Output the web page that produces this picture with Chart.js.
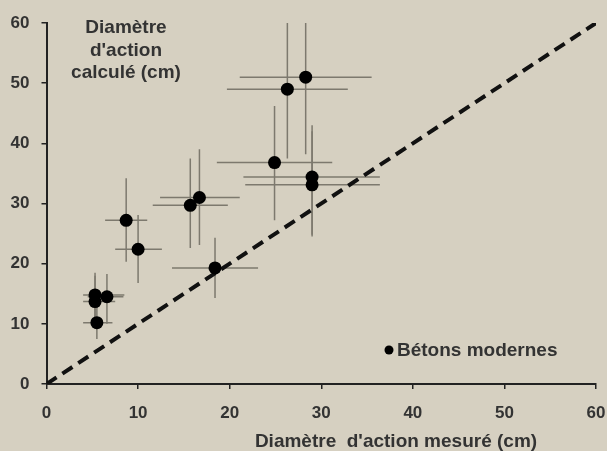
<!DOCTYPE html>
<html>
<head>
<meta charset="utf-8">
<script src="https://cdn.jsdelivr.net/npm/chart.js@4"></script>
<style>
  html, body { margin: 0; padding: 0; background: #d6d0c1; }
  #wrap { width: 607px; height: 451px; }
</style>
</head>
<body>
<div id="wrap"><canvas id="chart" width="607" height="451"></canvas></div>
<script>
// measured diameter (x) vs calculated diameter (y), both in cm
const measured   = [5.5, 5.3, 5.3, 6.6, 8.7, 10.0, 15.7, 16.7, 18.4, 24.9, 26.3, 28.3, 29.0, 29.0];
const calculated = [10.2, 14.8, 13.7, 14.5, 27.2, 22.4, 29.7, 31.0, 19.3, 36.8, 49.0, 51.0, 34.4, 33.1];

// error bar bounds
const xLow  = [4.0, 4.0, 4.0, 4.5, 6.4, 7.5, 11.6, 12.4, 13.7, 18.6, 19.7, 21.1, 21.5, 21.7];
const xHigh = [7.2, 8.5, 7.5, 8.4, 11.0, 12.6, 19.8, 21.1, 23.1, 31.2, 32.9, 35.5, 36.4, 36.4];
const yLow  = [7.5, 9.4, 9.5, 10.0, 20.3, 16.8, 22.6, 23.1, 14.3, 27.2, 37.5, 38.2, 24.8, 24.5];
const yHigh = [14.4, 18.5, 18.0, 18.3, 34.2, 28.1, 37.5, 39.0, 24.3, 46.2, 60.0, 60.0, 43.0, 42.0];

const tickValues = [0, 10, 20, 30, 40, 50, 60];
const yTitleLines = ["Diamètre", "d'action", "calculé (cm)"];
const xTitle = "Diamètre  d'action mesuré (cm)";
const seriesName = "Bétons modernes";

const textColor = "#333333";
const fontFamily = "'Liberation Sans', Arial, sans-serif";
const boldFont = "bold 19px " + fontFamily;

// paint the beige background
const background = {
  id: "background",
  beforeDraw(chart) {
    const c = chart.ctx;
    c.save();
    c.fillStyle = "#d6d0c1";
    c.fillRect(0, 0, chart.width, chart.height);
    c.restore();
  }
};

// grey error bars under the points
const errorBars = {
  id: "errorBars",
  beforeDatasetsDraw(chart) {
    const c = chart.ctx;
    const xs = chart.scales.x, ys = chart.scales.y;
    c.save();
    c.strokeStyle = "#7d796e";
    c.lineWidth = 1.5;
    measured.forEach((mx, i) => {
      const px = xs.getPixelForValue(mx);
      const py = ys.getPixelForValue(calculated[i]);
      c.beginPath();
      c.moveTo(xs.getPixelForValue(xLow[i]), py);
      c.lineTo(xs.getPixelForValue(xHigh[i]), py);
      c.moveTo(px, ys.getPixelForValue(yLow[i]));
      c.lineTo(px, ys.getPixelForValue(yHigh[i]));
      c.stroke();
    });
    c.restore();
  }
};

// axis titles and legend placed like the original
const labels = {
  id: "labels",
  afterDraw(chart) {
    const c = chart.ctx;
    c.save();
    c.fillStyle = textColor;
    c.font = boldFont;
    c.textAlign = "center";
    c.textBaseline = "middle";
    yTitleLines.forEach((line, i) => c.fillText(line, 126, 28 + i * 22.5));
    c.fillText(xTitle, 396, 442);

    // legend
    c.fillStyle = "#000";
    c.beginPath();
    c.arc(389, 350, 4.5, 0, Math.PI * 2);
    c.fill();
    c.fillStyle = textColor;
    c.textAlign = "left";
    c.fillText(seriesName, 397, 351);
    c.restore();
  }
};

const axisCommon = {
  type: "linear",
  min: 0,
  max: 60,
  afterBuildTicks: axis => { axis.ticks = tickValues.map(v => ({ value: v })); },
  grid: { display: true, drawOnChartArea: false, drawTicks: true, tickLength: 5, color: "#222", lineWidth: 1.5 },
  border: { display: true, color: "#222", width: 2 },
  ticks: { color: textColor, font: { family: fontFamily, size: 17, weight: "bold" } }
};

new Chart(document.getElementById("chart"), {
  type: "scatter",
  data: {
    datasets: [
      {
        label: seriesName,
        data: measured.map((x, i) => ({ x: x, y: calculated[i] })),
        backgroundColor: "#000",
        borderWidth: 0,
        pointRadius: 6.5,
        order: 1
      },
      {
        label: "1:1",
        type: "line",
        data: [{ x: 0, y: 0 }, { x: 60, y: 60 }],
        borderColor: "#111",
        borderWidth: 4,
        borderDash: [12, 7],
        pointRadius: 0,
        order: 2
      }
    ]
  },
  options: {
    responsive: false,
    animation: false,
    layout: { padding: { top: 23, right: 0, left: 0, bottom: 0 } },
    plugins: { legend: { display: false }, tooltip: { enabled: false } },
    scales: {
      x: Object.assign({}, axisCommon, {
        position: "bottom",
        ticks: Object.assign({}, axisCommon.ticks, { padding: 14, maxRotation: 0 }),
        afterFit: s => { s.height = 67; s.paddingRight = 11; s.paddingLeft = 0; }
      }),
      y: Object.assign({}, axisCommon, {
        position: "left",
        ticks: Object.assign({}, axisCommon.ticks, { padding: 12 }),
        afterFit: s => { s.width = 46.5; }
      })
    }
  },
  plugins: [background, errorBars, labels]
});
</script>
</body>
</html>
